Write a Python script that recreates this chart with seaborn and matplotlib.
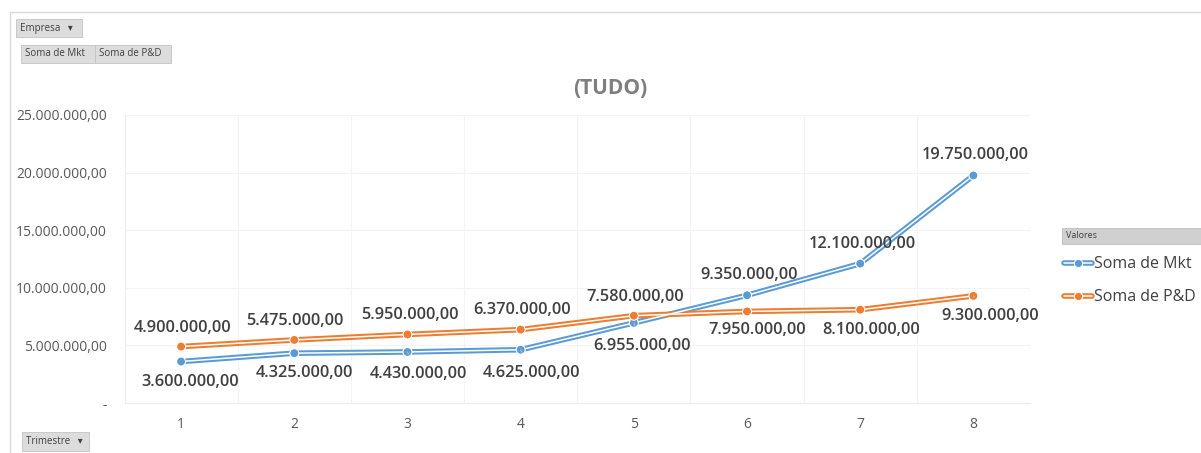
import matplotlib
matplotlib.use("Agg")
import matplotlib.pyplot as plt
import seaborn as sns
import pandas as pd
from matplotlib.lines import Line2D
from matplotlib.patches import Rectangle
from matplotlib.legend_handler import HandlerTuple
from matplotlib.ticker import FuncFormatter, MultipleLocator

# data
trimestres = [1, 2, 3, 4, 5, 6, 7, 8]
soma_mkt = [3600000, 4325000, 4430000, 4625000, 6955000, 9350000, 12100000, 19750000]
soma_pd = [4900000, 5475000, 5950000, 6370000, 7580000, 7950000, 8100000, 9300000]
series_names = ["Soma de Mkt", "Soma de P&D"]
title_text = "(TUDO)"

colors = {"Soma de Mkt": "#5b9bd5", "Soma de P&D": "#ed7d31"}

df = pd.DataFrame({
    "Trimestre": trimestres * 2,
    "Valor": soma_mkt + soma_pd,
    "Serie": [series_names[0]] * len(trimestres) + [series_names[1]] * len(trimestres),
})

sns.set_style("white")
plt.rcParams["font.family"] = ["Open Sans", "DejaVu Sans"]

fig = plt.figure(figsize=(12.01, 4.53), dpi=100)
ax = fig.add_axes([124.5 / 1201, 1 - 403 / 453, 905.5 / 1201, 288 / 453])

# double line: thick colored line with thin white core, then the points
sns.lineplot(data=df, x="Trimestre", y="Valor", hue="Serie", palette=colors,
             lw=4.0, legend=False, ax=ax, zorder=3)
sns.lineplot(data=df, x="Trimestre", y="Valor", units="Serie", estimator=None,
             color="white", lw=1.1, legend=False, ax=ax, zorder=4)
sns.scatterplot(data=df, x="Trimestre", y="Valor", hue="Serie", palette=colors,
                s=42, edgecolor="white", linewidth=0.8, legend=False, ax=ax, zorder=5)

ax.set_xlim(0.5, 8.5)
ax.set_ylim(0, 25000000)
ax.set_xticks(trimestres)
ax.xaxis.set_minor_locator(MultipleLocator(1, offset=0.5))
ax.yaxis.set_major_locator(MultipleLocator(5000000))


def br_fmt(v, pos=None):
    if v == 0:
        return "-"
    s = f"{v:,.2f}"
    return s.replace(",", "X").replace(".", ",").replace("X", ".")


ax.yaxis.set_major_formatter(FuncFormatter(br_fmt))
ax.grid(True, axis="y", which="major", color="#f3f3f3", lw=0.8)
ax.grid(True, axis="x", which="minor", color="#f3f3f3", lw=0.8)
ax.grid(False, axis="x", which="major")
ax.tick_params(axis="both", which="both", length=0, colors="#595959", labelsize=10)
ax.tick_params(axis="y", pad=12.5)
ax.tick_params(axis="x", pad=10)
for sp in ax.spines.values():
    sp.set_visible(False)
ax.spines["left"].set_visible(True)
ax.spines["bottom"].set_visible(True)
ax.spines["left"].set_color("#ececec")
ax.spines["bottom"].set_color("#ececec")
ax.set_xlabel("")
ax.set_ylabel("")

# data labels (offsets in pixels)
mkt_offsets = [(9, -20), (10, -20), (11, -22), (11, -23), (8, -23), (2, 20), (2, 20), (2, 20)]
pd_offsets = [(1, 19), (1, 19), (2, 19), (1, 20), (1, 19), (10, -19), (11, -20), (17, -20)]
mkt_leader = [False, False, True, True, True, False, False, False]
pd_leader = [False] * 7 + [True]

for vals, offs, leads in [(soma_mkt, mkt_offsets, mkt_leader), (soma_pd, pd_offsets, pd_leader)]:
    for x, v, (dx, dy), lead in zip(trimestres, vals, offs, leads):
        ap = dict(arrowstyle="-", color="#bfbfbf", lw=0.8, shrinkA=7, shrinkB=4) if lead else None
        ax.annotate(br_fmt(v), xy=(x, v), xytext=(dx, dy), textcoords="offset pixels",
                    ha="center", va="center", fontsize=11.8, fontweight="semibold",
                    color="#404040", arrowprops=ap, zorder=6)

fig.text(610 / 1201, 1 - 88 / 453, title_text, ha="center", va="center",
         fontsize=15, fontweight="bold", color="#7f7f7f")

# outer chart frame
fig.patches.append(Rectangle((10 / 1201, -0.1), 1.2, 1 - 12 / 453 + 0.1,
                             transform=fig.transFigure, fill=False, ec="#d9d9d9", lw=1))


# pivot field buttons
def button(x0, y0, w, h, label):
    fig.patches.append(Rectangle((x0 / 1201, 1 - (y0 + h) / 453), w / 1201, h / 453,
                                 transform=fig.transFigure, fc="#dcdcdc", ec="#c4c4c4", lw=0.6))
    fig.text((x0 + 4) / 1201, 1 - (y0 + h / 2) / 453, label, ha="left", va="center",
             fontsize=7, color="#404040")


button(16, 19, 66, 18, "Empresa   \u25be")
button(21, 45, 74, 18, "Soma de Mkt")
button(95, 45, 76, 18, "Soma de P&D")
button(22, 432, 67, 19, "Trimestre   \u25be")

# legend header
fig.patches.append(Rectangle((1062 / 1201, 1 - 244 / 453), 140 / 1201, 16 / 453,
                             transform=fig.transFigure, fc="#d0d0d0", ec="#bdbdbd", lw=0.6))
fig.text(1066 / 1201, 1 - 236 / 453, "Valores", ha="left", va="center",
         fontsize=6.5, color="#404040")

handles = []
for name in series_names:
    c = colors[name]
    handles.append((Line2D([], [], color=c, lw=4.0),
                    Line2D([], [], color="white", lw=1.1, marker="o", ms=6,
                           mfc=c, mec="white", mew=0.8)))
ax.legend(handles, series_names, handler_map={tuple: HandlerTuple(ndivide=1)},
          loc="upper left", bbox_to_anchor=(1058 / 1201, 1 - 250 / 453),
          bbox_transform=fig.transFigure, frameon=False, fontsize=11.5,
          handlelength=1.75, handletextpad=0.1, labelspacing=1.05, labelcolor="#404040",
          borderaxespad=0)

fig.savefig("out.png", dpi=100, facecolor="white")
